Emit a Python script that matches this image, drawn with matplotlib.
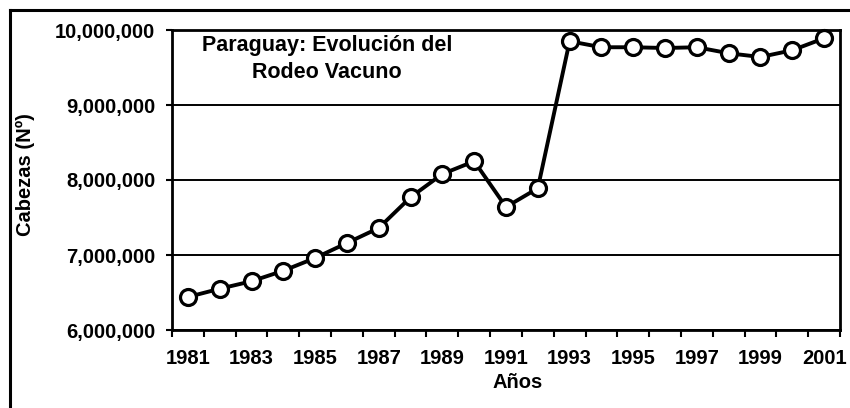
import matplotlib
matplotlib.use("Agg")
import matplotlib.pyplot as plt
from matplotlib.ticker import FuncFormatter, FixedLocator

years = list(range(1981, 2002))
cabezas = [6440000, 6550000, 6650000, 6790000, 6960000, 7160000, 7360000,
           7770000, 8080000, 8250000, 7640000, 7890000, 9850000, 9770000,
           9770000, 9760000, 9770000, 9690000, 9640000, 9730000, 9890000]
title = "Paraguay: Evolución del\nRodeo Vacuno"
xlabel = "Años"
ylabel = "Cabezas (Nº)"

plt.rcParams['font.family'] = ['Liberation Sans', 'DejaVu Sans']
plt.rcParams['font.weight'] = 'bold'

fig = plt.figure(figsize=(8.5, 4.08), dpi=100)
ax = fig.add_axes([172/850, 1 - 330/408, (840-172)/850, (330-30)/408])

x = list(range(len(years)))
ax.plot(x, cabezas, color='black', linewidth=2.8, marker='o', markersize=11.5,
        markerfacecolor='white', markeredgecolor='black', markeredgewidth=2.3,
        clip_on=False, zorder=3)

ax.set_xlim(-0.5, len(years) - 0.5)
ax.set_ylim(6000000, 10000000)
ax.set_yticks([6000000, 7000000, 8000000, 9000000, 10000000])
ax.yaxis.set_major_formatter(FuncFormatter(lambda v, p: f"{int(v):,}"))
ax.grid(axis='y', color='black', linewidth=1.4)
ax.set_axisbelow(True)

ax.set_xticks(x[::2])
ax.set_xticklabels([str(y) for y in years[::2]])
ax.tick_params(axis='x', length=0, pad=14, labelsize=14.5)
ax.xaxis.set_minor_locator(FixedLocator([i - 0.5 for i in range(len(years) + 1)]))
ax.tick_params(axis='x', which='minor', length=5, width=1.5, direction='out')
ax.tick_params(axis='y', length=4, width=1.5, direction='out', labelsize=14.5, pad=8)

for s in ax.spines.values():
    s.set_linewidth(2.0)
    s.set_color('black')

ax.set_xlabel(xlabel, fontsize=14.5, fontweight='bold')
ax.xaxis.set_label_coords((518 - 172) / 668, -(382 - 330) / 300)
ax.xaxis.label.set_va('center')
ax.text((327 - 172) / 668, 1 - (45 - 30) / 300, title.split("\n")[0], transform=ax.transAxes,
        ha='center', va='center', fontsize=15.5, fontweight='bold')
ax.text((327 - 172) / 668, 1 - (72 - 30) / 300, title.split("\n")[1], transform=ax.transAxes,
        ha='center', va='center', fontsize=15.5, fontweight='bold')
fig.text(25/850, 1 - 175/408, ylabel, rotation=90, ha='center', va='center',
         fontsize=14.5, fontweight='bold')

# outer frame lines (top and left)
fig.add_artist(plt.Line2D([10/850, 1], [1 - 10/408, 1 - 10/408], color='black',
                          linewidth=2.2, transform=fig.transFigure))
fig.add_artist(plt.Line2D([10/850, 10/850], [0, 1 - 10/408], color='black',
                          linewidth=2.2, transform=fig.transFigure))

fig.savefig("out.png", dpi=100)
